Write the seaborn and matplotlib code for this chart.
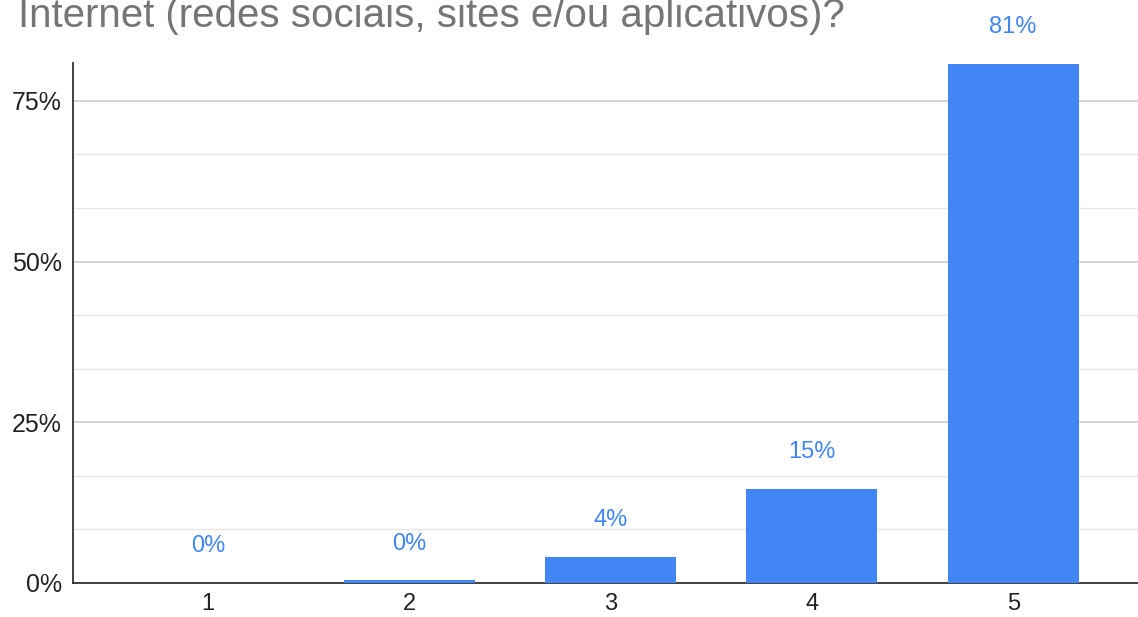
import matplotlib
matplotlib.use("Agg")
import matplotlib.pyplot as plt
import seaborn as sns
import pandas as pd
from matplotlib.ticker import MultipleLocator, FuncFormatter

categories = ["1", "2", "3", "4", "5"]
values = [0.0, 0.4, 4.0, 14.6, 80.8]
labels = ["0%", "0%", "4%", "15%", "81%"]
title = "Internet (redes sociais, sites e/ou aplicativos)?"

sns.set_theme(style="white")
plt.rcParams['font.family'] = ['Liberation Sans', 'DejaVu Sans']

df = pd.DataFrame({"cat": categories, "val": values})

fig = plt.figure(figsize=(11.38, 6.17), dpi=100)
ax = fig.add_axes([73/1138, 1-583/617, 1-73/1138, (583-63)/617])

blue = "#4285F4"
sns.barplot(data=df, x="cat", y="val", color=blue, width=0.65, ax=ax,
            saturation=1, edgecolor="none", linewidth=0)
for p in ax.patches:
    p.set_zorder(3)

ax.set_xlim(-0.67, 4.62)
ax.set_ylim(0, 80.9)
ax.yaxis.set_major_locator(MultipleLocator(25))
ax.yaxis.set_minor_locator(MultipleLocator(25/3))
ax.yaxis.set_major_formatter(FuncFormatter(lambda v, p: f"{int(v)}%"))
ax.grid(axis="y", which="major", color="#cccccc", linewidth=1.2)
ax.grid(axis="y", which="minor", color="#e6e6e6", linewidth=1.0)
ax.set_axisbelow(True)
ax.set_xlabel("")
ax.set_ylabel("")
for s in ["top", "right"]:
    ax.spines[s].set_visible(False)
for s in ["left", "bottom"]:
    ax.spines[s].set_color("#333333")
    ax.spines[s].set_linewidth(1.3)
    ax.spines[s].set_zorder(2.5)
ax.tick_params(axis="y", which="both", length=0, labelsize=18, colors="#222222", pad=8)
ax.tick_params(axis="x", which="both", length=0, labelsize=17, colors="#222222", pad=7)

for i, (v, lab) in enumerate(zip(values, labels)):
    ax.annotate(lab, (i, v), xytext=(0, 26.5), textcoords="offset points",
                ha="center", va="center", color=blue, fontsize=17,
                annotation_clip=False)

fig.text(18/1138, 1-27/617, title, ha="left", va="baseline", color="#757575", fontsize=29)

fig.savefig("out.png", dpi=100)
